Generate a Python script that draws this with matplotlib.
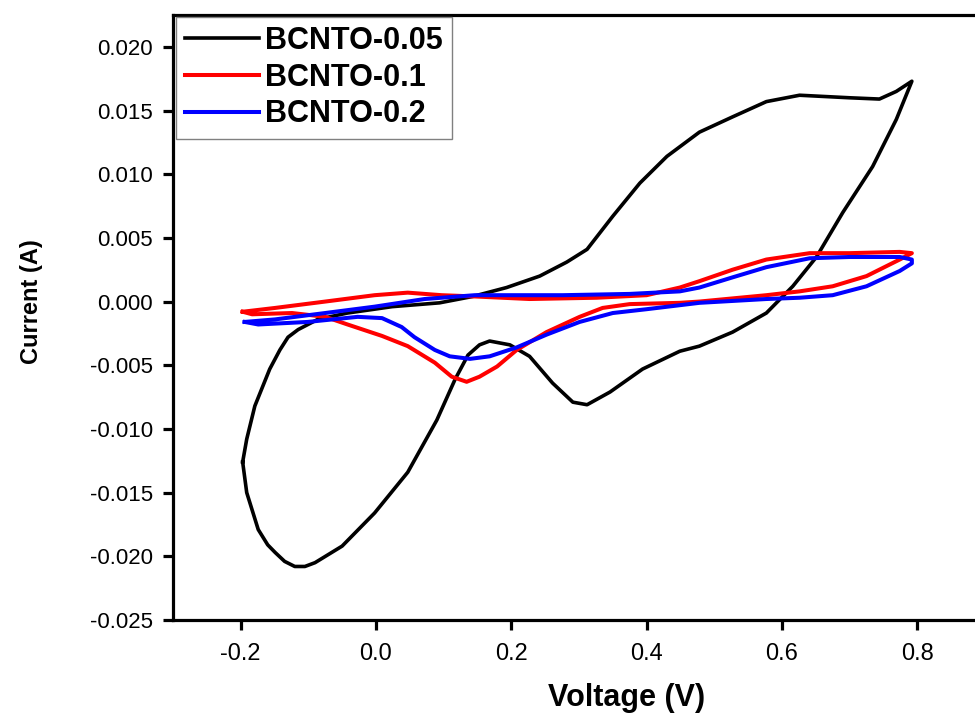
import numpy as np
import matplotlib
matplotlib.use('Agg')
import matplotlib.pyplot as plt
from matplotlib.ticker import FormatStrFormatter

plt.rcParams['axes.unicode_minus'] = False
plt.rcParams['font.family'] = 'Liberation Sans'

# BCNTO-0.05 cyclic voltammogram
v_005 = [-0.197, -0.191, -0.174, -0.160, -0.149, -0.135, -0.120, -0.105, -0.090,
         -0.050, -0.002, 0.047, 0.090, 0.117, 0.136, 0.153, 0.168, 0.198, 0.227,
         0.261, 0.291, 0.312, 0.346, 0.394, 0.449, 0.478, 0.527, 0.577, 0.616,
         0.651, 0.690, 0.734, 0.769, 0.792, 0.769, 0.744, 0.700, 0.626, 0.577,
         0.527, 0.478, 0.430, 0.390, 0.350, 0.312, 0.282, 0.242, 0.193, 0.143,
         0.094, 0.024, -0.042, -0.086, -0.115, -0.130, -0.142, -0.157, -0.179,
         -0.191, -0.197]
i_005 = [-0.0126, -0.0150, -0.0179, -0.0191, -0.0197, -0.0204, -0.0208, -0.0208,
         -0.0205, -0.0192, -0.0166, -0.0134, -0.0093, -0.0061, -0.0042, -0.0034,
         -0.0031, -0.0034, -0.0043, -0.0064, -0.0079, -0.0081, -0.0071, -0.0053,
         -0.0039, -0.0035, -0.0024, -0.0009, 0.0012, 0.0035, 0.0070, 0.0106,
         0.0143, 0.0173, 0.0165, 0.0159, 0.0160, 0.0162, 0.0157, 0.0145, 0.0133,
         0.0114, 0.0093, 0.0067, 0.0041, 0.0031, 0.0020, 0.0011, 0.0004, -0.0001,
         -0.0004, -0.0009, -0.0014, -0.0022, -0.0028, -0.0038, -0.0053, -0.0082,
         -0.0108, -0.0126]

# BCNTO-0.1
v_01 = [-0.197, -0.149, -0.075, -0.002, 0.047, 0.097, 0.146, 0.227, 0.326, 0.400,
        0.449, 0.478, 0.527, 0.577, 0.641, 0.700, 0.774, 0.792, 0.774, 0.725,
        0.675, 0.626, 0.577, 0.478, 0.449, 0.375, 0.335, 0.301, 0.252, 0.208,
        0.179, 0.153, 0.134, 0.112, 0.087, 0.047, 0.009, -0.042, -0.075, -0.124,
        -0.183, -0.197]
i_01 = [-0.0008, -0.0005, 0.0000, 0.0005, 0.0007, 0.0005, 0.0004, 0.0002, 0.0003,
        0.0005, 0.0011, 0.0016, 0.0025, 0.0033, 0.0038, 0.0038, 0.0039, 0.0038,
        0.0033, 0.0020, 0.0012, 0.0008, 0.0005, 0.0000, -0.0001, -0.0002, -0.0005,
        -0.0012, -0.0024, -0.0038, -0.0051, -0.0059, -0.0063, -0.0059, -0.0048,
        -0.0035, -0.0027, -0.0018, -0.0012, -0.0009, -0.0010, -0.0008]

# BCNTO-0.2
v_02 = [-0.194, -0.149, -0.075, -0.002, 0.072, 0.146, 0.179, 0.276, 0.375, 0.449,
        0.478, 0.527, 0.577, 0.641, 0.700, 0.774, 0.792, 0.792, 0.774, 0.725,
        0.675, 0.626, 0.577, 0.478, 0.400, 0.350, 0.301, 0.252, 0.208, 0.168,
        0.139, 0.109, 0.087, 0.057, 0.038, 0.009, -0.027, -0.101, -0.174, -0.194]
i_02 = [-0.0016, -0.0014, -0.0009, -0.0004, 0.0002, 0.0005, 0.0005, 0.0005, 0.0006,
        0.0008, 0.0011, 0.0019, 0.0027, 0.0034, 0.0035, 0.0035, 0.0033, 0.0030,
        0.0024, 0.0012, 0.0005, 0.0003, 0.0002, -0.0001, -0.0006, -0.0009, -0.0016,
        -0.0026, -0.0036, -0.0043, -0.0045, -0.0043, -0.0038, -0.0028, -0.0020,
        -0.0013, -0.0012, -0.0016, -0.0018, -0.0016]

x_ticks = [-0.2, 0.0, 0.2, 0.4, 0.6, 0.8]
y_ticks = [-0.025, -0.020, -0.015, -0.010, -0.005, 0.000, 0.005, 0.010, 0.015, 0.020]

fig = plt.figure(figsize=(9.75, 7.14), dpi=100)
ax = fig.add_axes([0.1774, 0.1317, 0.8328, 0.8473])

ax.plot(v_005, i_005, color='black', lw=2.6, label='BCNTO-0.05')
ax.plot(v_01, i_01, color='#ff0000', lw=2.9, label='BCNTO-0.1')
ax.plot(v_02, i_02, color='#0000ff', lw=2.9, label='BCNTO-0.2')

ax.set_xlim(-0.3, 0.9)
ax.set_ylim(-0.025, 0.0225)
ax.set_xticks(x_ticks)
ax.set_yticks(y_ticks)
ax.xaxis.set_major_formatter(FormatStrFormatter('%.1f'))
ax.yaxis.set_major_formatter(FormatStrFormatter('%.3f'))

for s in ax.spines.values():
    s.set_linewidth(2.3)
ax.tick_params(direction='out', length=7.5, width=2.3, top=False, right=False)
ax.tick_params(axis='x', pad=9, labelsize=17)
ax.tick_params(axis='y', pad=7, labelsize=16)

ax.set_xlabel('Voltage (V)', fontsize=22, fontweight='bold')
ax.set_ylabel('Current (A)', fontsize=17, fontweight='bold')
ax.xaxis.set_label_coords(0.559, -0.104)
ax.yaxis.set_label_coords(-0.16, 0.526)

leg = ax.legend(loc='upper left', bbox_to_anchor=(0.004, 0.997),
                prop={'weight': 'bold', 'size': 22},
                fancybox=False, framealpha=1, edgecolor='#808080',
                handlelength=2.4, handletextpad=0.2, labelspacing=0.22,
                borderpad=0.3, borderaxespad=0.0)
leg.get_frame().set_linewidth(1.0)

plt.savefig('out.png', dpi=100)
plt.close()
